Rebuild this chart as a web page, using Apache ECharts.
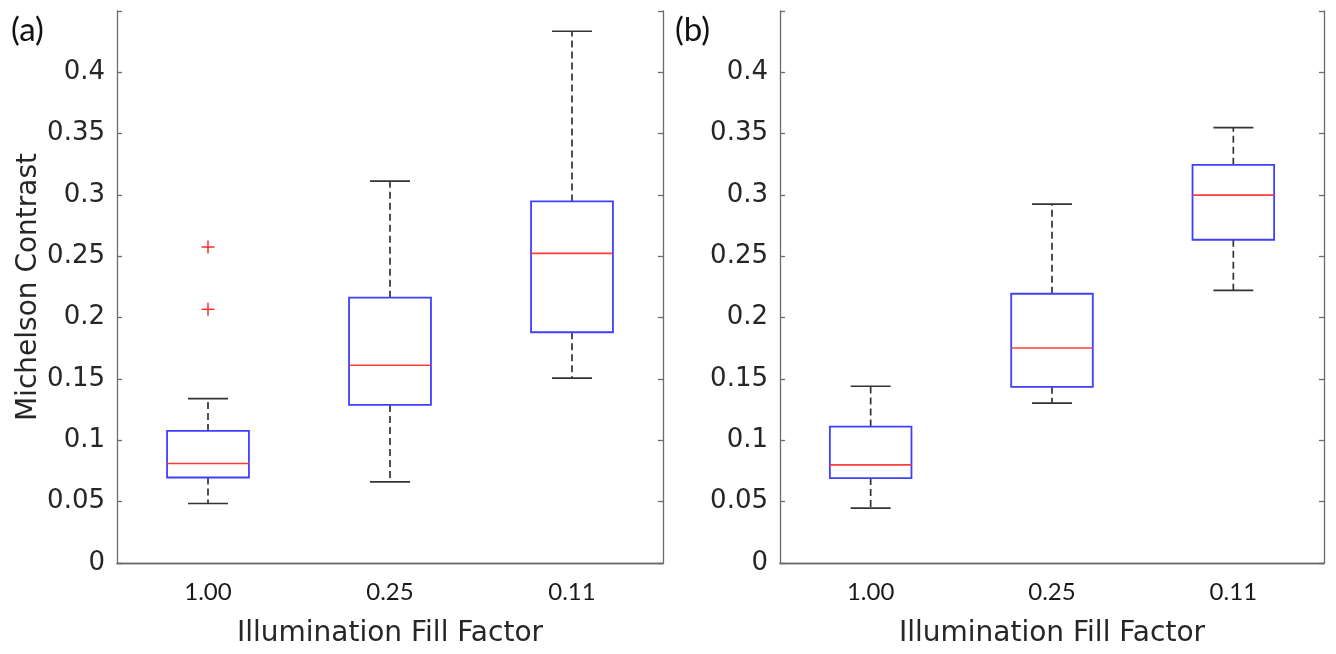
<!DOCTYPE html>
<html>
<head>
<meta charset="utf-8">
<script src="https://cdn.jsdelivr.net/npm/echarts@6/dist/echarts.min.js"></script>
<style>
  html, body { margin: 0; padding: 0; background: #ffffff; }
  #chart { width: 1336px; height: 654px; }
</style>
</head>
<body>
<div id="chart"></div>
<script>
// ---- data ----
const categories = ['1.00', '0.25', '0.11'];
const yTicks = [0, 0.05, 0.1, 0.15, 0.2, 0.25, 0.3, 0.35, 0.4];

// Panel (a): [lower whisker, Q1, median, Q3, upper whisker]
const aMin    = [0.0485, 0.0662, 0.1507];
const aQ1     = [0.0697, 0.1289, 0.1881];
const aMedian = [0.0811, 0.1612, 0.2524];
const aQ3     = [0.1077, 0.2163, 0.2948];
const aMax    = [0.1340, 0.3113, 0.4335];
const aOutlierCat = [0, 0];
const aOutlierVal = [0.2576, 0.2068];

// Panel (b)
const bMin    = [0.0448, 0.1303, 0.2223];
const bQ1     = [0.0692, 0.1436, 0.2635];
const bMedian = [0.0800, 0.1753, 0.2999];
const bQ3     = [0.1112, 0.2195, 0.3246];
const bMax    = [0.1441, 0.2926, 0.3550];

// ---- build ----
function boxRows(mn, q1, md, q3, mx) {
  return categories.map((c, i) => [i, mn[i], q1[i], md[i], q3[i], mx[i]]);
}

const axisColor = '#6b6b6b';
const labelColor = '#262626';
const tickFont = 'DejaVu Sans';

function renderBox(params, api) {
  const x = api.value(0);
  const band = api.size([1, 0])[0];
  const bw = band * 0.45;
  const cw = band * 0.22;
  const pMin = api.coord([x, api.value(1)]);
  const pQ1  = api.coord([x, api.value(2)]);
  const pMed = api.coord([x, api.value(3)]);
  const pQ3  = api.coord([x, api.value(4)]);
  const pMax = api.coord([x, api.value(5)]);
  const cx = pMed[0];
  const dash = { stroke: '#333333', lineWidth: 1.7, lineDash: [7, 4] };
  const solid = { stroke: '#333333', lineWidth: 1.7 };
  return {
    type: 'group',
    children: [
      { type: 'line', shape: { x1: cx, y1: pQ3[1], x2: cx, y2: pMax[1] }, style: dash },
      { type: 'line', shape: { x1: cx, y1: pQ1[1], x2: cx, y2: pMin[1] }, style: dash },
      { type: 'line', shape: { x1: cx - cw / 2, y1: pMax[1], x2: cx + cw / 2, y2: pMax[1] }, style: solid },
      { type: 'line', shape: { x1: cx - cw / 2, y1: pMin[1], x2: cx + cw / 2, y2: pMin[1] }, style: solid },
      { type: 'rect', shape: { x: cx - bw / 2, y: pQ3[1], width: bw, height: pQ1[1] - pQ3[1] },
        style: { fill: '#ffffff', stroke: '#3f3fff', lineWidth: 1.8 } },
      { type: 'line', shape: { x1: cx - bw / 2, y1: pMed[1], x2: cx + bw / 2, y2: pMed[1] },
        style: { stroke: '#ff3b3b', lineWidth: 1.6 } }
    ]
  };
}

function renderPlus(params, api) {
  const p = api.coord([api.value(0), api.value(1)]);
  const h = 6.5;
  return {
    type: 'group',
    children: [
      { type: 'line', shape: { x1: p[0] - h, y1: p[1], x2: p[0] + h, y2: p[1] }, style: { stroke: '#ff2020', lineWidth: 1.4 } },
      { type: 'line', shape: { x1: p[0], y1: p[1] - h, x2: p[0], y2: p[1] + h }, style: { stroke: '#ff2020', lineWidth: 1.4 } }
    ]
  };
}

const grids = [
  { left: 117, top: 11, width: 546, height: 552 },
  { left: 780, top: 11, width: 544, height: 552 }
];

const xAxes = [];
const yAxes = [];
grids.forEach((g, gi) => {
  xAxes.push({
    type: 'category', gridIndex: gi, data: categories, position: 'bottom',
    boundaryGap: true,
    axisLine: { lineStyle: { color: axisColor, width: 1.3 } },
    axisTick: { inside: true, alignWithLabel: true, length: 5, lineStyle: { color: axisColor, width: 1.3 } },
    axisLabel: { margin: 17, fontFamily: 'Lato', fontSize: 24, color: '#1a1a1a' },
    splitLine: { show: false },
    name: 'Illumination Fill Factor', nameLocation: 'middle', nameGap: 57,
    nameTextStyle: { fontFamily: tickFont, fontSize: 28, color: labelColor }
  });
  xAxes.push({
    type: 'category', gridIndex: gi, data: categories, position: 'top',
    boundaryGap: true,
    axisLine: { lineStyle: { color: axisColor, width: 1.3 } },
    axisTick: { inside: true, alignWithLabel: true, length: 5, lineStyle: { color: axisColor, width: 1.3 } },
    axisLabel: { show: false }, splitLine: { show: false }
  });
  const yBase = {
    type: 'value', gridIndex: gi, min: 0, max: 0.45, interval: 0.05,
    axisLine: { show: true, lineStyle: { color: axisColor, width: 1.3 } },
    axisTick: { show: true, inside: true, length: 5, lineStyle: { color: axisColor, width: 1.3 } },
    splitLine: { show: false }
  };
  yAxes.push(Object.assign({}, yBase, {
    position: 'left',
    axisLabel: {
      margin: 12, fontFamily: tickFont, fontSize: 26, color: labelColor,
      formatter: v => {
        const r = Math.round(v * 100) / 100;
        return yTicks.some(t => Math.abs(t - r) < 1e-9) ? String(r) : '';
      }
    },
    name: gi === 0 ? 'Michelson Contrast' : '', nameLocation: 'middle', nameGap: 74,
    nameTextStyle: { fontFamily: tickFont, fontSize: 28, color: labelColor }
  }));
  yAxes.push(Object.assign({}, yBase, { position: 'right', axisLabel: { show: false } }));
});

const option = {
  animation: false,
  backgroundColor: '#ffffff',
  grid: grids,
  xAxis: xAxes,
  yAxis: yAxes,
  graphic: [
    { type: 'text', left: 11, top: 14, style: { text: '(a)', fontFamily: 'Lato', fontSize: 33, fill: '#111111' } },
    { type: 'text', left: 675, top: 14, style: { text: '(b)', fontFamily: 'Lato', fontSize: 33, fill: '#111111' } }
  ],
  series: [
    { type: 'custom', xAxisIndex: 0, yAxisIndex: 0, renderItem: renderBox,
      encode: { x: 0, y: [1, 2, 3, 4, 5] }, data: boxRows(aMin, aQ1, aMedian, aQ3, aMax) },
    { type: 'custom', xAxisIndex: 0, yAxisIndex: 0, renderItem: renderPlus,
      encode: { x: 0, y: 1 }, data: aOutlierCat.map((c, i) => [c, aOutlierVal[i]]) },
    { type: 'custom', xAxisIndex: 2, yAxisIndex: 2, renderItem: renderBox,
      encode: { x: 0, y: [1, 2, 3, 4, 5] }, data: boxRows(bMin, bQ1, bMedian, bQ3, bMax) }
  ]
};

const chart = echarts.init(document.getElementById('chart'), null, { renderer: 'canvas' });
chart.setOption(option);
</script>
</body>
</html>
